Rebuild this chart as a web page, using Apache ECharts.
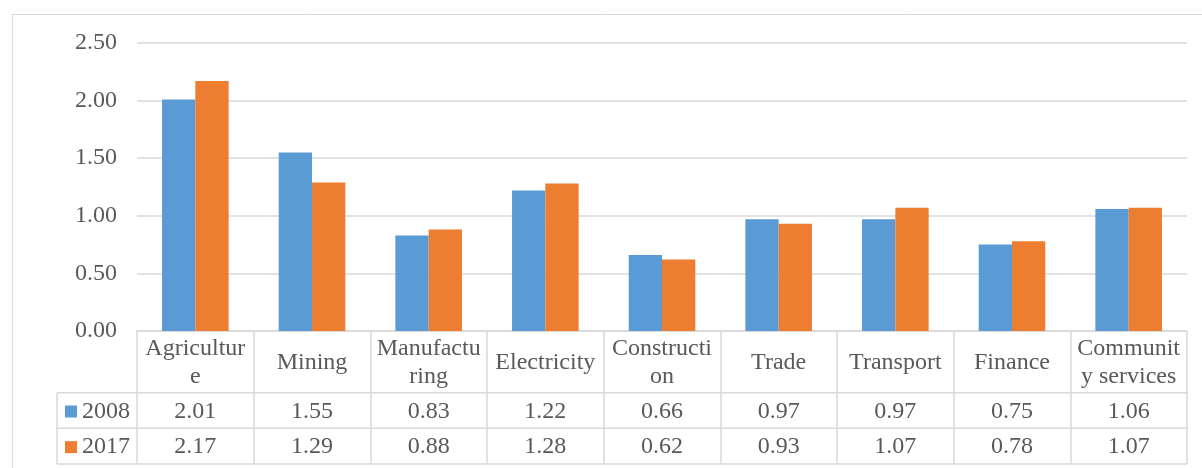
<!DOCTYPE html>
<html>
<head>
<meta charset="utf-8">
<script src="https://cdn.jsdelivr.net/npm/echarts@6/dist/echarts.min.js"></script>
<style>
html,body{margin:0;padding:0;background:#fff;}
#c{width:1202px;height:468px;}
</style>
</head>
<body>
<div id="c"></div>
<script>
const categories = ['Agriculture','Mining','Manufacturing','Electricity','Construction','Trade','Transport','Finance','Community services'];
const headerLabels = ['Agricultur\ne','Mining','Manufactu\nring','Electricity','Constructi\non','Trade','Transport','Finance','Communit\ny services'];
const seriesNames = ['2008','2017'];
const values2008 = [2.01,1.55,0.83,1.22,0.66,0.97,0.97,0.75,1.06];
const values2017 = [2.17,1.29,0.88,1.28,0.62,0.93,1.07,0.78,1.07];
const yTicks = [0,0.5,1.0,1.5,2.0,2.5];

const FONT = '"Liberation Serif","Times New Roman",serif';
const TXT = '#595959';
const LINE = '#D9D9D9';
const FS = 24;

const G = {left:137, right:15, top:43, bottom:137};
const H = 468, W = 1202;
const axisY = H - G.bottom;          // 331
const row1 = axisY + 61.7;           // bottom of header row
const row2 = row1 + 35.6;
const row3 = row2 + 35.7;
const legendLeft = 57;
const plotRight = W - G.right;

const chart = echarts.init(document.getElementById('c'), null, {renderer:'canvas'});

const valueAxis = (arr, off) => ({
  type:'category', data:categories, position:'bottom', offset:off,
  axisLine:{show:false}, axisTick:{show:false}, splitLine:{show:false},
  axisLabel:{interval:0, margin:(row2-row1)/2 + 1, verticalAlign:'middle',
    fontFamily:FONT, fontSize:FS, color:TXT,
    formatter:(v,i)=>arr[i].toFixed(2)}
});

chart.setOption({
  animation:false,
  backgroundColor:'#fff',
  grid:{left:G.left, right:G.right, top:G.top, bottom:G.bottom, containLabel:false},
  xAxis:[
    {type:'category', data:categories, position:'bottom',
     axisLine:{show:true, lineStyle:{color:LINE, width:1.5}},
     axisTick:{show:true, alignWithLabel:false, interval:0, length:row3-axisY, lineStyle:{color:LINE, width:1.5}},
     axisLabel:{interval:0, margin:(row1-axisY)/2 + 1, verticalAlign:'middle', lineHeight:28,
       fontFamily:FONT, fontSize:FS, color:TXT, formatter:(v,i)=>headerLabels[i]}},
    valueAxis(values2008, row1-axisY),
    valueAxis(values2017, row2-axisY)
  ],
  yAxis:{type:'value', min:yTicks[0], max:yTicks[yTicks.length-1], interval:0.5,
    axisLine:{show:false}, axisTick:{show:false},
    splitLine:{lineStyle:{color:LINE, width:1.5}},
    axisLabel:{margin:20, padding:[3,0,0,0], fontFamily:FONT, fontSize:FS, color:TXT, formatter:v=>v.toFixed(2)}},
  legend:[
    {data:[seriesNames[0]], left:65, top:(row1+row2)/2-11, icon:'rect', itemWidth:12, itemHeight:12,
     padding:0, textStyle:{fontFamily:FONT, fontSize:FS, color:TXT, lineHeight:24}, selectedMode:false},
    {data:[seriesNames[1]], left:65, top:(row2+row3)/2-11, icon:'rect', itemWidth:12, itemHeight:12,
     padding:0, textStyle:{fontFamily:FONT, fontSize:FS, color:TXT, lineHeight:24}, selectedMode:false}
  ],
  series:[
    {name:seriesNames[0], type:'bar', data:values2008, barWidth:33.3, barGap:'0%',
     itemStyle:{color:'#5B9BD5'}},
    {name:seriesNames[1], type:'bar', data:values2017, barWidth:33.3, barGap:'0%',
     itemStyle:{color:'#ED7D31'}}
  ],
  graphic:[
    {type:'rect', silent:true, shape:{x:12.5, y:14.5, width:1200, height:470},
     style:{fill:'none', stroke:LINE, lineWidth:1}},
    {type:'line', silent:true, shape:{x1:legendLeft, y1:row1, x2:plotRight, y2:row1}, style:{stroke:LINE, lineWidth:1.5}},
    {type:'line', silent:true, shape:{x1:legendLeft, y1:row2, x2:plotRight, y2:row2}, style:{stroke:LINE, lineWidth:1.5}},
    {type:'line', silent:true, shape:{x1:legendLeft, y1:row3, x2:plotRight, y2:row3}, style:{stroke:LINE, lineWidth:1.5}},
    {type:'line', silent:true, shape:{x1:legendLeft, y1:row1, x2:legendLeft, y2:row3}, style:{stroke:LINE, lineWidth:1.5}}
  ]
});
</script>
</body>
</html>
